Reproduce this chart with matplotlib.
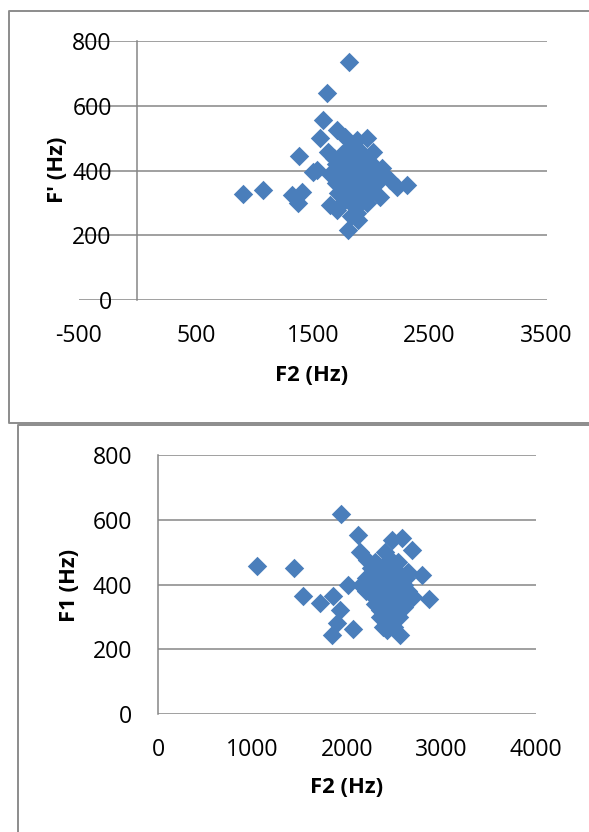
import matplotlib.pyplot as plt
from matplotlib.lines import Line2D

plt.rcParams["font.family"] = ["Open Sans", "DejaVu Sans"]
plt.rcParams["axes.unicode_minus"] = False

# top chart: F2 vs F' (Hz)
top_f2 = [1810, 1619, 1590, 1561, 1382, 905, 1071, 1319, 1376, 1405,
          1533, 1633, 1804, 1889, 2303, 2218, 2089, 1961, 2018, 1704,
          1775, 1647, 1704, 2075, 2160, 1504, 1818, 1875,
          1700, 1750, 1800, 1850, 1900, 1950, 2000, 1900, 1850, 1800,
          1750, 1700, 1650, 1950, 2000, 1900, 1850, 1800, 1750, 1950,
          1880, 1820, 1780, 2050, 2100, 1960, 1830, 1720, 1680, 2030,
          1770, 1830, 1870, 1920, 1980, 1870, 1930, 1780, 1860, 1920,
          2020, 1810, 1720, 1900, 1980, 1840, 1880, 1760]
top_fp = [734, 640, 556, 500, 445, 326, 340, 324, 299, 335,
          402, 458, 216, 247, 355, 350, 407, 500, 458, 525,
          505, 293, 278, 319, 371, 396, 474, 494,
          420, 450, 400, 430, 460, 420, 380, 380, 350, 340,
          370, 360, 390, 340, 330, 300, 290, 310, 300, 440,
          410, 370, 420, 360, 390, 300, 260, 330, 440, 410,
          390, 410, 370, 400, 400, 330, 350, 350, 450, 430,
          360, 440, 390, 340, 360, 300, 270, 330]

# bottom chart: F2 vs F1 (Hz)
bottom_f2 = [1933, 1051, 1439, 1538, 1714, 1848, 1926, 1891, 1838, 2060,
             2120, 2138, 2871, 2790, 2685, 2579, 2473, 2014, 2384, 2561, 2208,
             2200, 2250, 2300, 2350, 2400, 2450, 2500, 2400, 2350, 2300,
             2250, 2200, 2150, 2450, 2500, 2400, 2350, 2450, 2500, 2550,
             2550, 2600, 2650, 2600, 2500, 2550, 2450, 2400, 2300, 2350,
             2420, 2700, 2650, 2250,
             2320, 2380, 2430, 2480, 2350, 2420, 2470, 2520, 2570, 2330,
             2380, 2280, 2300, 2530, 2480, 2420, 2580, 2620, 2470, 2540, 2350]
bottom_f1 = [618, 457, 450, 364, 344, 364, 321, 280, 244, 262,
             553, 501, 354, 429, 507, 543, 537, 398, 270, 244, 476,
             420, 450, 400, 430, 460, 420, 380, 380, 350, 340,
             370, 380, 400, 340, 330, 300, 300, 290, 270, 300,
             360, 400, 380, 330, 450, 430, 480, 500, 470, 320,
             260, 360, 440, 400,
             420, 420, 400, 400, 380, 350, 360, 400, 400, 460,
             440, 420, 380, 350, 310, 320, 340, 420, 450, 470, 400]

y_ticks = [0, 200, 400, 600, 800]
top_x_ticks = [-500, 500, 1500, 2500, 3500]
bottom_x_ticks = [0, 1000, 2000, 3000, 4000]

BLUE = "#4A7EBB"
GRID = "#868686"
BORDER = "#8C8C8C"

fig = plt.figure(figsize=(5.89, 8.32), dpi=100)


def frame_line(xs, ys):
    # pixel coords -> figure fraction
    fig.lines.append(Line2D([x / 589 for x in xs], [1 - y / 832 for y in ys],
                            transform=fig.transFigure, color=BORDER,
                            linewidth=1.4))


# chart frames (right/bottom edges run off the image)
frame_line([589, 9, 9, 589], [11, 11, 423, 423])
frame_line([18, 18, 589], [832, 424.5, 424.5])


def style(ax, xlim, xticks, ylabel, ylabel_xy, xlabel_xy):
    ax.set_xlim(*xlim)
    ax.set_ylim(0, 800)
    ax.set_xticks(xticks)
    ax.set_yticks(y_ticks)
    for s in ("top", "right", "bottom"):
        ax.spines[s].set_visible(False)
    ax.spines["left"].set_position(("data", 0))
    ax.spines["left"].set_color(GRID)
    ax.spines["left"].set_linewidth(1.1)
    for y in y_ticks:
        ax.axhline(y, color=GRID, linewidth=1.1, zorder=1)
    ax.tick_params(axis="both", length=0, labelsize=16.6)
    ax.tick_params(axis="y", pad=18.5)
    ax.tick_params(axis="x", pad=17)
    ax.set_xlabel("F2 (Hz)", fontsize=15.8, fontweight="bold")
    ax.set_ylabel(ylabel, fontsize=15.8, fontweight="bold")
    ax.xaxis.set_label_coords(*xlabel_xy)
    ax.xaxis.label.set_va("center")
    ax.yaxis.set_label_coords(*ylabel_xy)
    ax.yaxis.label.set_va("center")


ax1 = fig.add_axes([79 / 589, 1 - 300 / 832, 467.5 / 589, 259 / 832])
ax1.scatter(top_f2, top_fp, marker="D", s=98, color=BLUE, linewidths=0, zorder=3)
style(ax1, (-500, 3500), top_x_ticks, "F' (Hz)", (-0.045, 0.502), (0.498, -0.29))

ax2 = fig.add_axes([158 / 589, 1 - 714 / 832, 378 / 589, 259 / 832])
ax2.scatter(bottom_f2, bottom_f1, marker="D", s=98, color=BLUE, linewidths=0, zorder=3)
style(ax2, (0, 4000), bottom_x_ticks, "F1 (Hz)", (-0.234, 0.498), (0.5, -0.2857))

fig.savefig("out.png", dpi=100, facecolor="white")
